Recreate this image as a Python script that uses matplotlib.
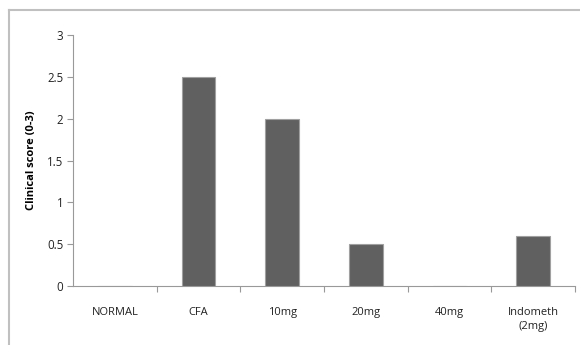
import matplotlib
matplotlib.use("Agg")
import matplotlib.pyplot as plt
from matplotlib.lines import Line2D

categories = ["NORMAL", "CFA", "10mg", "20mg", "40mg", "Indometh\n(2mg)"]
scores = [0, 2.5, 2.0, 0.5, 0, 0.6]
yticks = [0, 0.5, 1, 1.5, 2, 2.5, 3]
ytick_labels = ["0", "0.5", "1", "1.5", "2", "2.5", "3"]

plt.rcParams['font.family'] = ['Open Sans', 'DejaVu Sans']

W, H = 580, 345
fig = plt.figure(figsize=(W/100, H/100), dpi=100)
ax = fig.add_axes([73/W, 1-286/H, (575-73)/W, (286-35)/H])

x = list(range(len(categories)))
ax.bar(x, scores, width=0.4, color="#606060", edgecolor="#a0a0a0", linewidth=0.8, zorder=3)

ax.set_xlim(-0.5, len(categories)-0.5)
ax.set_ylim(0, 3)
ax.set_yticks(yticks)
ax.set_yticklabels(ytick_labels, fontsize=8.3, color="#222222")
ax.set_xticks(x)
ax.set_xticklabels(categories, fontsize=8, color="#222222", linespacing=1.45)
ax.tick_params(axis='x', length=0, pad=15)
ax.tick_params(axis='y', length=4, color="#999999", width=0.8, pad=3)
# category boundary ticks
ax.set_xticks([i + 0.5 for i in range(len(categories))], minor=True)
ax.tick_params(axis='x', which='minor', length=4, color="#999999", width=0.8, direction='out')

for s in ['top', 'right']:
    ax.spines[s].set_visible(False)
for s in ['left', 'bottom']:
    ax.spines[s].set_color("#999999")
    ax.spines[s].set_linewidth(0.8)

ax.set_ylabel("Clinical score (0-3)", fontsize=8, fontweight='bold', labelpad=7)

# outer chart border (top and left visible)
fig.add_artist(Line2D([8.5/W, 1.0], [1-10/H, 1-10/H], color="#c0c0c0", lw=1.5, transform=fig.transFigure))
fig.add_artist(Line2D([8.5/W, 8.5/W], [0, 1-10/H], color="#c0c0c0", lw=1.5, transform=fig.transFigure))

fig.savefig("out.png", dpi=100)
